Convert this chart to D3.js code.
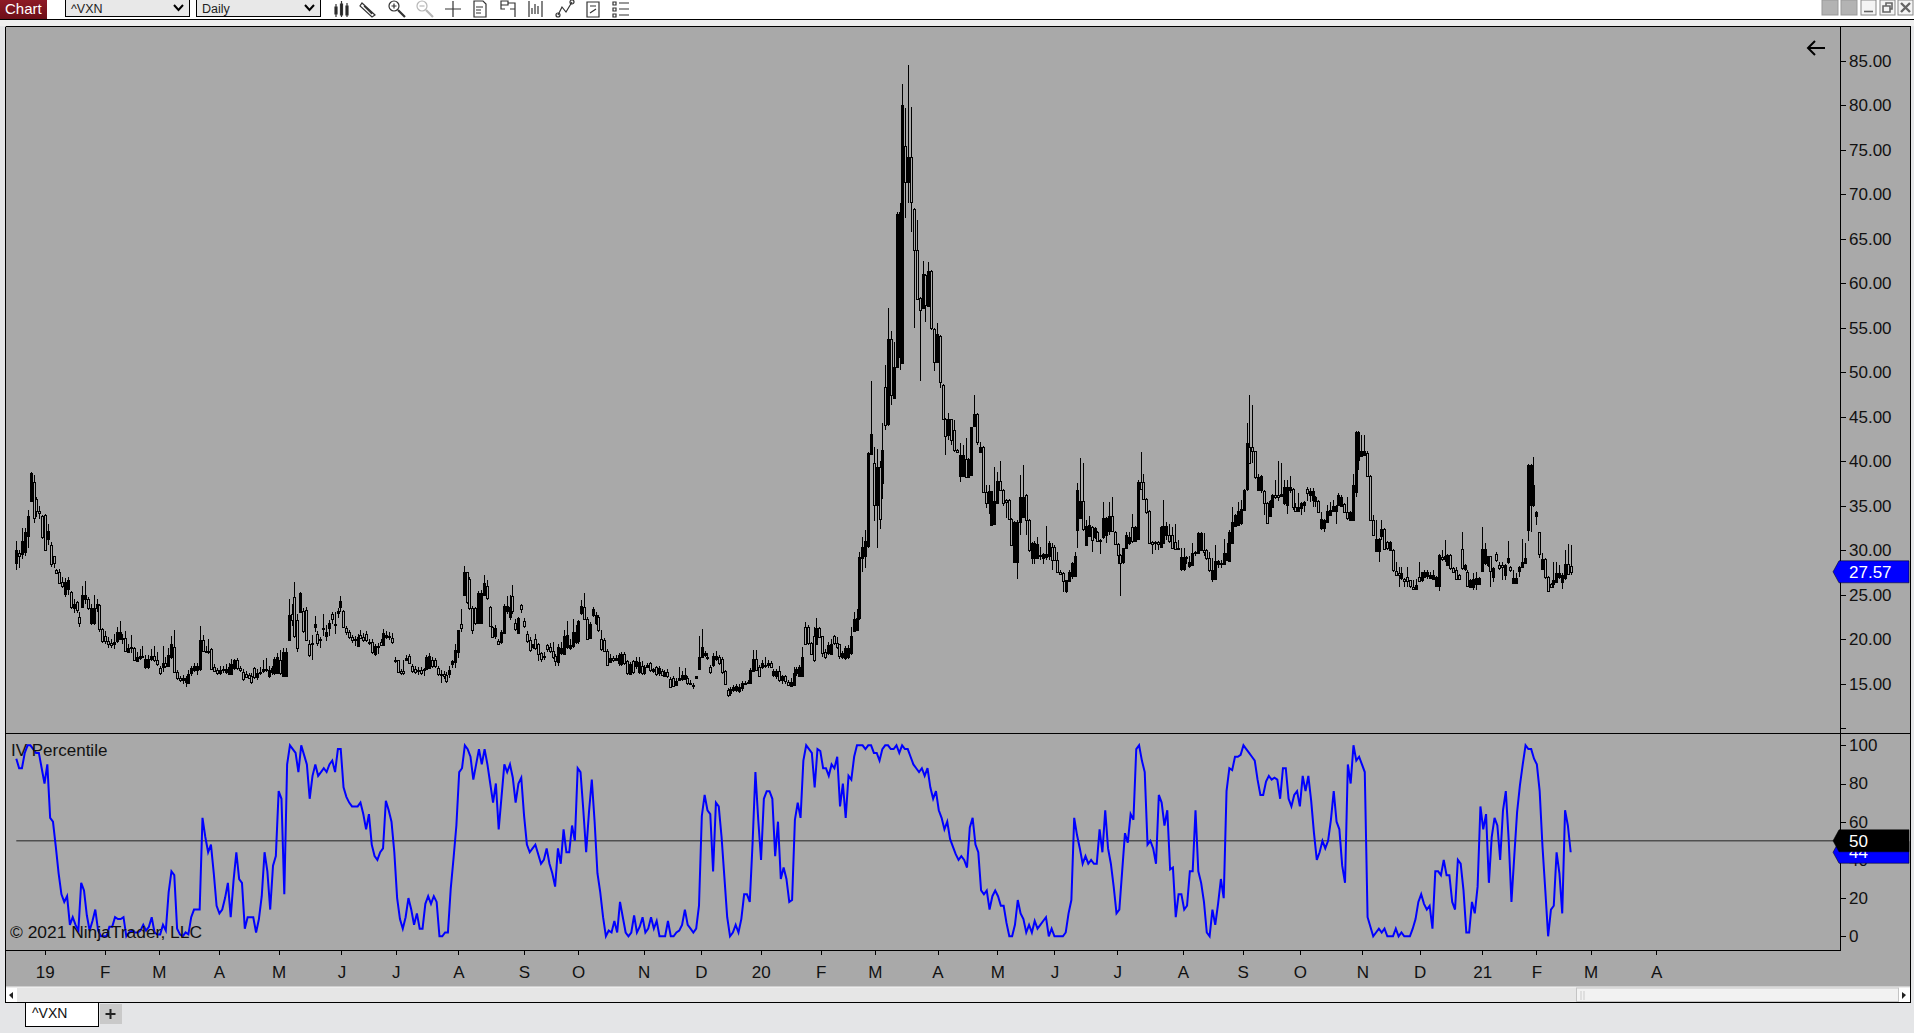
<!DOCTYPE html>
<html>
<head>
<meta charset="utf-8">
<script src="https://cdnjs.cloudflare.com/ajax/libs/d3/7.8.5/d3.min.js"></script>
<style>
html, body { margin: 0; padding: 0; background: #e4e5e7; overflow: hidden; }
svg { display: block; }
text { font-family: "Liberation Sans", Arial, sans-serif; }
</style>
</head>
<body>
<div id="content"></div>
<script>
// VXN daily candles
var opens = [
28.5,29.7,29.5,29.7,31.5,35.5,37.7,35.7,34.4,
33.8,34,31.3,30.6,29.3,27.8,27.5,26.4,25,25.7,
25.3,23.5,24.2,22.5,23.6,24.5,24.5,21.8,21.8,23.5,
23.8,21.1,20.3,19.8,19.6,19.5,19.8,20,20.1,20.1,
18.6,19.1,19,17.6,17.9,18,16.9,16.9,17.8,18.1,
17.7,16.7,16.9,17.3,17,18,19.1,16.3,15.6,
15.4,15.1,15.1,16.1,16.5,16.5,16.6,19.9,18.7,18.7,
18.9,16.9,16.5,16.2,16.5,16.3,16.1,16.1,16.7,17.6,
16.7,16.3,16.1,16,15.8,16.7,15.7,16.3,16.4,16.5,
15.8,16.2,16.2,16.2,17.6,15.9,15.9,19.9,22.8,24.7,
22.1,23.1,23.2,23.3,19.5,19.6,21.4,20.6,19.9,21.2,
20.3,21.2,22.8,21.6,23,23.6,23.2,21.3,20.8,20.2,
19.9,19.2,20.5,20.2,20.6,19.7,19.7,18.3,19.2,
19.7,19.4,20.3,20.2,20.1,17.6,17.6,16.4,16.4,17.7,
18.1,17,16.6,16.5,16.5,16.5,16.7,16.8,17.6,17.7,
16.7,16.1,16.1,16,16.1,17.2,17.5,18.5,21.7,25,
27.5,26.8,23.5,23.5,21.8,21.8,25,26,23.6,21.4,
20.3,19.8,19.7,20.7,23.1,22.5,24.8,21.8,20.7,23.8,
22,20.6,19.9,19.1,20,19.5,18.4,18.1,19.3,19.1,
18.7,18.1,17.4,18.4,18.4,19.1,19,19.2,19.7,19.7,
22.9,23.6,22.3,20.1,22.7,21.8,22.5,20,19.9,18.7,
17.5,17.9,17.7,17.3,17.2,18.3,17.5,16.1,17.5,16.9,
16.3,17,16.2,16.9,17.3,16.4,16.9,16.1,16.4,15.8,
16.3,15.5,15.6,14.9,15.4,15.5,15.6,15.6,15.1,14.8,
15.6,16.7,18,18.2,17.9,16.9,17.1,17.8,18,17.8,
16.4,14.3,13.9,14.3,14.2,14.1,14.5,15,15.1,15,
16.5,17.8,16.9,16.9,17,17.1,17.3,15.9,15.8,16.4,
15.4,15.8,15.2,14.7,14.9,16.2,15.9,15.9,21.4,21.4,
19.6,20.3,19.5,21.3,20.3,18.6,18.4,18.4,20.3,19.6,
19.4,17.9,17.9,18,18.4,21,21,22.3,29.2,29.3,
30.4,40.9,39.8,35.1,39.4,37.6,48.4,44.1,53.7,47.1,
50.6,51.7,51,75.4,71.4,74.2,68.4,63.8,58.4,57.2,
60.9,57.5,61.4,54.9,51.2,54.1,48.6,44.8,42.9,44.7,
43.5,41.3,38.3,38.3,40.3,38.3,38.4,43.9,45.3,41,
41.6,36.5,35.3,32.8,32.9,35.3,37.8,36.8,35.6,35.6,
33.5,28.7,28.7,33.2,33.8,36.2,33.4,29.1,29.1,29.1,
29.4,29.1,29.3,29.3,30.4,30.4,28.9,27.6,27.4,25.4,
26.6,27.1,27.1,32.3,33.6,35.5,30.6,31.6,32.6,31.5,
32.1,31.2,31.5,31.7,32.1,33.8,32.1,30.7,29.5,28.6,
30.2,30.8,32.6,31,31.3,37.7,37.7,35.8,34.4,30.9,
30.8,30.9,30.4,30.8,31.7,31.7,31.7,30.9,30.1,27.8,
27.9,29.2,28.3,28.3,29.8,29.7,30,30,30,29.1,
26.8,26.8,28.5,28.6,28.5,28.9,28.8,30.8,32.8,32.8,
33,34.6,36.8,41.6,41.6,41.1,36.7,36.7,36.7,35.3,
33.8,34.8,36.2,36.2,36.1,35.3,35.1,36.8,36.9,34.9,
34.5,34.7,35.1,36.9,36.2,35.6,35.6,35.5,32.5,32.5,
33.2,33.9,34.4,34.4,35.1,35,35.2,34.3,33.4,33.4,
36.5,40.1,40.6,40.8,40.9,38.3,33.4,29.9,29.9,31.6,
32.4,30.9,30,30,27.7,27.4,26.8,26.8,27,26.6,
25.9,25.7,27,26.6,27,27,26.9,26.8,26,26,
29.2,29,28.4,29.5,28,27.8,27.2,30.1,27.8,27.6,
25.9,25.9,26.2,26.2,27.6,28.5,28.3,29.3,27,29.6,
28.3,28.3,27.2,28.6,28.1,26.3,26.3,27.7,28.1,28.5,
32.3,35.1,35,33.8,32,27.9,29,27,26.2,26.1,
26.4,27,26.4,26.9,28.5,28.2];

var closes = [
30,29.4,31,32,33.8,38.7,33.7,34.3,34.2,
31.4,30.1,32.2,28.5,28.5,27.5,26.3,26,26.4,26.7,
23.6,24,23.3,21.8,25,25,23.5,23.5,23.5,23.9,
21.1,19.7,19.7,19.5,19.4,19.7,20.8,20.8,20,18.6,
19,19,17.6,18,18.1,18.1,17.8,17.8,18.1,17.7,
17.2,16.1,17.3,17,18.2,19.5,16.3,15.6,15.4,
15.6,15.6,16.1,16.7,17,17,19.9,18.7,18.6,18.6,
16.6,16.5,16.2,16.5,16.6,16.6,16.9,17.2,17.6,16.7,
16.5,15.5,15.8,15.7,15.1,15.7,16.2,16.2,16.6,16.6,
16.5,16.7,17.8,18,16.1,18.6,18.6,22.7,22.1,20.3,
19,25.2,21,19.9,18.3,19.5,21.7,19.6,20,21.3,
20.8,21.8,22.2,21.7,23.2,24.3,21.4,20.8,20.2,19.9,
20,20.2,20.2,19.9,19.9,19.6,18.6,19.2,19.1,
19.4,20.7,20.5,20.3,19.7,17.6,16.3,16.2,16.2,17.9,
17.3,16.4,16.3,16.4,16.2,16.6,18,18.1,16.9,17,
16,16,15.9,15.3,16.5,17.5,18.8,21,21.2,27.6,
24.1,23.5,21,21.8,25.2,25.2,26.3,24.7,21.5,20.3,
21.2,19.5,20.8,23.7,23.7,23.6,23.1,21.1,22.4,23.3,
21.4,19.8,18.8,19.4,19,18.4,17.7,18,18.9,18.6,
18,17.5,19.1,19,20.4,20.5,19.3,20.8,20.8,22,
23.7,22.3,20.1,21.7,23.4,22.7,21,18.9,18.7,17.1,
17.9,17.7,17.9,18.2,18.3,17.3,16.2,17.2,16.3,17.5,
17.4,16.2,16.9,17.1,16.5,16.6,16.1,16.7,16,16.3,
15.8,14.6,14.7,15.3,15.6,16,16,15,15,14.7,
15.8,18,19.1,18.4,18,16.3,18.1,18.1,17.3,16.3,
14.9,13.7,14.4,14.6,14.7,14.6,15.1,15.1,15.2,16.5,
17.8,16.6,15.9,17.3,17.1,17.3,16.9,16.4,16.4,15.4,
15.8,15.2,14.9,15.2,16.2,16.6,16.9,18,19.5,19.6,
18.4,17.6,21.3,20.3,18.4,18,19.3,19.5,19.5,19.2,
18,18.4,19,19,20.3,22.3,22.4,29.2,30.4,31,
40.9,43.1,35.1,39.4,33.6,41.3,44.1,53.7,47.4,50.6,
67.8,68,80,71.4,74.2,69.1,63.8,58.3,57,61,
57.5,61.4,55,51.2,54.3,48.9,44.8,42.9,44.7,42.3,
41.3,41.1,40.7,40.7,38.3,40.3,43.8,45.3,42.2,41.6,
36.5,35.3,36.6,36.6,35.5,37.8,36.8,35.3,35.4,33.5,
30.6,33.2,33.2,36,36,33.4,30,30.8,30.8,30.7,
29.5,29.6,29.6,30.8,28.9,28.9,27.5,27.4,26.5,26.6,
27.6,28.6,29.3,36.8,35.5,32.3,32.7,32.8,31.1,32.5,
31.1,31.1,33.6,33.6,33.8,32.1,30.8,29.5,28.6,30.2,
31.7,31.5,31,32.6,37.7,36.9,35.8,34.3,30.8,30.7,
30.9,30.7,32.6,32.7,32.7,31,30.2,30.1,30.2,29.2,
29.2,29.1,28.7,29.7,29.7,31.9,31.9,29.8,29.1,27.8,
27.8,28.8,28.8,28.5,29.7,29.7,32.1,33.2,34,34.4,
34.6,36.8,42,39.8,41.1,38.2,38.2,38.3,35.3,33,
35.5,36.2,36,36,36.3,37.1,37.1,37.1,34.9,34.5,
34.9,35.3,35.4,36.4,36.6,36.6,36,34.3,33.5,33.4,
34.4,34.5,35,35,36.2,36,34.3,33.6,34.3,37.3,
43.3,43.3,41.2,41.2,38.3,33.4,31.7,31.3,31.3,32.4,
30.2,30.2,30.9,27.7,27.2,27.2,27.4,26.6,26.6,25.9,
25.7,26.1,26.6,27.5,27.6,27.5,27.2,27.2,27,29.5,
29,29.3,29.5,28,27.6,26.8,26.8,28,28.3,26,
26.7,26.8,26.9,26.9,30.1,30.1,29.3,27.6,28,28.9,
28,28.1,28.3,29.1,27.8,26.9,26.9,28.1,28.7,29.1,
39.6,39.6,37.3,34.3,29.5,29,27,25.4,25.9,26.6,
27.4,27.4,27.2,28.5,27.4,27.57];

var highs = [
31,30,32.5,32.5,34.5,38.8,38.4,36,35,
33.9,34.1,33,30.9,29.4,27.9,27.9,27,26.9,27,
25.4,24.5,24.3,23,26,26.5,24.7,24,25,24.5,
23.9,21.2,20.9,20.2,20,20.6,21.4,22,20.6,20.9,
19.5,20.5,19.1,18.5,18.9,19.2,18.2,18.2,18.9,19.2,
18.5,17,19.2,18,19,20.3,21,16.5,15.8,
16,15.8,16.5,17,17.3,17.3,21.5,20.5,19.2,20,
19,17.2,16.7,17,17,17.2,17.3,17.8,17.8,17.9,
17,16.6,16.4,16.2,16.2,16.9,16.6,16.9,17.6,17.9,
17,17,18,18.4,18.8,19,19,24.5,24,26.4,
22.8,25.3,23.5,23.6,19.9,20.5,22.6,20.9,20.2,22.8,
21.6,22.2,23,23,23.5,24.9,23.3,21.5,21,20.5,
20.3,20.6,21,20.7,20.9,20,20,19.5,19.6,
20,21.1,20.9,20.8,20.7,18,17.7,16.6,17.6,18.2,
18.3,17.2,17,16.9,16.9,16.8,18.2,18.4,18,17.9,
17,16.5,16.4,16.3,17,17.7,19.4,21,23.4,28.2,
27.6,27,23.7,23.6,25.4,25.5,27.2,26.6,23.7,21.5,
21.6,20,21,24,24.8,25,26.1,22.3,22.5,24,
22.4,20.9,20.2,19.5,20.6,19.6,18.6,18.6,19.5,19.6,
19.7,18.3,19.4,19.7,21,22,20,22.3,21.6,22.2,
24.4,25.2,22.5,21.9,23.6,23,22.7,21,20.1,18.9,
18.3,18.1,18.2,18.4,18.5,18.5,17.7,17.4,17.7,18,
18,17.5,17.1,17.3,17.4,16.8,17,17,16.6,16.5,
16.6,15.7,15.8,15.6,16.9,16.4,16.7,15.9,15.4,15.1,
15.9,20.3,21.1,18.7,18.4,17.1,18.4,18.7,18.2,18,
16.5,14.5,14.6,14.8,14.9,14.9,15.3,15.3,15.4,16.7,
18.8,18.8,17.1,17.6,18,17.7,17.5,16.6,16.6,17,
16,16,15.4,15.6,16.9,16.9,17.1,19.1,21.9,21.6,
19.7,21.4,22.4,21.4,20.4,18.9,19.7,20,20.5,20.2,
19.5,18.7,19.2,19.3,21.4,23,23.4,29.8,31.5,32.3,
41,49,41.6,41.4,40,44.3,50.8,57.2,54.6,53.4,
68,69,82.4,79.7,84.5,79.8,68.5,67.1,58.5,62.5,
61,62.4,61.5,55,55.5,54.2,48.7,44.9,45.4,44.8,
44.6,41.4,42,41.8,42.6,40.4,43.9,47.5,45.4,42.2,
41.7,37.3,37.3,36.7,39.4,38.8,40,36.9,35.7,35.7,
33.6,33.3,33.4,38.4,39.6,36.3,33.5,30.9,31,31.5,
30.4,29.7,32.7,31,30.8,30.6,29.8,27.8,27.5,26.7,
27.8,28.7,29.8,37.6,40.4,39.8,33.4,33.8,32.7,32.6,
32.2,31.3,35.4,33.7,35.4,36,32.2,30.8,29.6,30.3,
32.1,32.1,34.1,32.7,37.9,41,38.6,35.9,34.5,31,
31,31,32.7,35.6,33.2,33,32.6,33,31.1,30.2,
30.2,29.3,29.3,30.8,29.9,32.1,32.1,31.9,30.1,29.8,
29.1,30.6,28.9,28.9,31.3,30.8,32.3,34.9,34.1,35.4,
35.6,36.9,44.3,47.5,46.3,41.2,38.6,38.4,36.8,35.4,
35.6,36.3,37.9,40,39.8,37.9,37.9,38.3,37,35.3,
36.4,35.4,35.5,37.1,37,37,36.1,35.6,34.3,33.5,
35.1,35.4,35.6,35.1,36.4,36.2,35.3,36,34.4,38.6,
43.4,43.4,43,43,41.2,38.4,33.9,33.4,31.4,33.4,
32.5,31,31,30.1,28.7,28.1,28.1,26.9,28.1,26.7,
26.6,26.8,28.7,27.6,27.8,27.8,27.5,27.8,27.1,29.6,
30,31.2,29.6,29.6,28.1,28.1,27.3,32.1,28.4,27.8,
26.8,27.4,27.6,27,32.6,30.8,29.4,29.4,28.1,29.8,
28.7,28.7,28.4,31,28.2,27.8,27.4,28.2,31.3,30.8,
39.7,39.7,40.5,34.4,32.1,29.7,29.1,27.1,26.3,28.7,
28.7,28.3,27.4,30,30.7,30.6];

var lows = [
27.8,28,29,29.4,30.3,35.4,33.1,33.7,33.5,
31.3,30,30.6,28.1,28,27.3,26.2,25.7,24.7,25,
23.4,22.9,22.9,21.4,23.5,24,23.3,21.6,21.6,23,
20.8,19.6,19.5,19,19,18.9,19.6,19.9,19.5,18.5,
18.4,18.4,17.5,17.4,17.7,17.9,16.6,16.6,17.5,17.4,
17,16,16.3,16.8,16.9,17.8,16.2,15.4,15.2,
15,14.6,14.9,15.8,16.3,16,16.4,18.5,18.4,18.3,
16.5,16.3,16,16,16.2,16.1,16,16,16.5,16.5,
16.3,15.3,15.6,15.5,14.9,15.5,15.4,16,16.2,16.3,
15.6,16,16,16.1,16,15.8,15.8,19.8,21.5,20.1,
18.5,23,20.7,19.8,18,17.6,20.8,19.2,19,20.4,
19.8,20.3,21.7,20.6,22.4,23,21.2,20.5,20,19.6,
19.2,19.1,20,19.7,19.7,19.3,18.3,18.1,18.3,
19.2,19.3,20,19.9,19.5,17.3,16.2,16,16,17.5,
17.2,16.2,16.1,16,16,15.8,16.5,16.6,16.7,16.8,
15.8,15.1,15.5,15.1,15.6,16.7,16.8,17.9,20.8,24.8,
24,23.3,20.6,21.6,21.7,21.7,24.8,24.4,21.4,20.1,
20,19.3,19.5,20.6,22.8,22.2,22.8,20.9,20.6,22.9,
21.2,19.6,18.5,18.9,18.8,17.5,17.4,17.6,18.6,18.4,
17.8,17,17,18.2,18.2,18.9,18.8,19,19.5,19.5,
22.7,22.1,20,20,22.5,21.6,20.8,18.7,18.5,17,
17.3,17.4,17.5,17,17,17.1,16,16,16.1,16.6,
16.1,16,16,16.7,16.3,16.2,15.9,15.9,15.8,15.7,
15.6,14.5,14.6,14.8,15.3,15.3,15.4,14.8,14.8,14.4,
15.5,16.6,17.9,18,17.6,16.1,16.9,17.5,17.1,16.1,
14.8,13.5,13.6,14,14,13.9,14.2,14.8,14.9,14.9,
16.3,16.4,15.7,16.6,16.7,16.8,16.7,15.7,15.5,15.2,
15,14.9,14.7,14.6,14.7,15.9,15.7,15.8,19.3,19.3,
18.2,17.4,19.3,20.1,18,17.8,18.2,18.2,19.3,18.9,
17.8,17.8,17.7,17.8,18.2,20.8,20.9,22.1,27.6,28,
30.2,40.8,33.3,30.3,32.4,35.8,43.5,44,46.3,47,
50.5,50.3,50.9,67.4,69,65.8,55,58.2,49,57.1,
55.7,57.4,54.7,50.1,51.1,48.2,44.7,40.7,42.4,41.8,
41,40.9,37.7,38.2,38.2,38.1,38.3,43.8,41.8,40.9,
36.4,34.7,34.1,32.7,32.8,35.2,36.7,35,33.6,33.4,
30.5,28.6,26.8,31.7,33.7,31.7,29.8,28.5,28.5,29,
28.9,28.5,28.9,28.9,27.8,28.8,27.4,27.2,25.3,25.2,
26.4,26.8,27,30.2,33.5,32.2,30.5,31.5,29.8,31.3,
31,29.6,31.3,30.8,31.7,32,30.7,28.5,24.8,28.5,
30.1,30.6,30.8,30.9,31.2,36.8,35.7,34.1,30.7,29.6,
30,30,30.2,30.7,31.1,30.8,30.1,30,30,27.7,
27.7,28.5,28,28.2,29.3,29.6,29.9,29.3,28.9,27.6,
26.4,26.6,28,28,28.4,28.8,28.7,30.7,32.7,32.7,
32.8,34.5,36.7,39.7,39.8,38,36.6,36.4,34,32.9,
33.7,34.7,35.8,35.5,36,35.1,34.1,36.4,34.5,34.4,
34.4,33.9,34.3,35.5,35.4,34.9,34.8,34.2,32.3,32.1,
33.1,33.9,34.3,33,35,34.9,34.2,33.4,33.3,33.3,
36,39,40.5,40.7,38.2,33.3,31.6,29.8,28.7,31.1,
30.1,30,29.9,27.6,27.1,25.9,26.6,25.9,25.9,25.7,
25.5,25.6,26.5,26.4,26.9,26.8,26.8,26.8,25.9,25.4,
28.8,28.7,28.3,27.8,27.5,26.7,26.7,27.8,27.7,25.9,
25.8,25.5,25.5,26.1,27.5,28.3,28.1,25.9,26.4,28.7,
27.8,26.6,26.6,28.5,27.6,26.2,26.2,27,28,28.5,
31,32,34.9,32.8,29.1,27.8,26.8,25.3,25.8,25.8,
26.3,26.8,25.6,26.6,27.3,27.2];

var ivValues = [
93,88,88,96,100,100,98,96,96,88,80,90,62,60,47,33,22,18,21,6,
10,6,3,28,24,11,3,8,14,3,0,0,0,5,5,10,9,9,10,0,
2,3,2,2,3,6,3,5,10,2,1,1,6,3,23,34,32,4,1,0,
2,1,10,14,14,14,62,52,44,48,33,16,12,14,20,28,10,29,44,30,
28,4,10,10,10,2,9,21,44,34,14,37,42,76,72,22,90,100,98,96,
86,100,95,90,72,84,90,84,86,88,86,90,92,86,98,98,78,73,70,68,
68,68,70,64,56,64,48,42,40,44,46,71,66,60,44,20,9,4,10,20,
14,6,12,4,4,17,21,17,21,18,0,0,2,2,25,41,58,86,88,100,
98,94,82,90,98,90,98,90,80,70,80,56,73,90,86,90,83,70,80,83,
63,48,44,46,48,43,38,40,46,38,33,26,46,38,56,44,44,58,50,88,
86,66,44,65,82,60,33,23,10,0,3,2,8,2,18,10,2,0,2,11,
2,
5,10,2,4,10,4,8,0,0,0,8,0,0,2,3,6,14,6,4,2,
4,16,63,74,66,64,34,70,68,52,31,10,0,2,6,2,9,22,22,18,
49,86,61,40,72,76,76,72,42,60,30,36,30,18,19,61,70,62,92,100,
98,96,78,98,97,88,88,84,90,88,94,68,80,62,84,82,94,100,100,100,
98,100,100,96,96,92,98,100,100,98,98,100,96,100,98,98,94,90,88,86,
88,84,88,78,72,76,66,62,56,60,51,47,43,40,42,40,36,57,62,48,
44,24,22,24,14,21,24,21,16,16,7,0,0,6,19,12,9,2,6,2,
8,4,6,8,10,0,4,0,0,0,0,2,12,19,62,53,46,38,42,38,
40,38,38,56,44,66,46,38,26,12,14,34,54,49,64,61,98,100,92,86,
48,50,46,38,74,70,58,66,35,36,10,22,22,14,16,34,34,66,34,28,
18,2,0,14,6,17,30,20,76,88,87,94,94,95,100,98,96,94,92,82,
74,74,81,84,82,83,
82,72,88,88,72,68,74,76,68,84,76,84,71,54,40,44,50,46,50,61,
76,60,56,37,28,90,80,100,92,94,90,86,10,5,0,2,4,2,4,0,
0,0,4,0,2,0,0,0,4,9,18,22,17,14,16,4,34,34,32,40,
32,32,18,14,40,38,24,2,2,18,12,26,68,56,64,28,52,62,58,40,
66,76,51,18,42,65,79,90,100,98,98,93,90,76,47,24,0,14,16,44,
33,12,66,58,44];

var monthLabels = ["19", "F", "M", "A", "M", "J", "J", "A", "S", "O", "N", "D", "20", "F", "M", "A", "M", "J", "J", "A", "S", "O", "N", "D", "21", "F", "M", "A"];
// bar positions of the month starts, on the percentile pane's day count
var monthBars = [10, 31, 50, 71, 92, 114, 133, 155, 178, 197, 220, 240, 261, 282, 301, 323, 344, 364, 386, 409, 430, 450, 472, 492, 514, 533, 552, 575];
var priceTicks = [15, 20, 25, 30, 35, 40, 45, 50, 55, 60, 65, 70, 75, 80, 85];
var ivTicks = [0, 20, 40, 60, 80, 100];

var width = 1914;
var height = 1033;
var panelLeft = 5;
var panelRight = 1910;
var axisX = 1840;
var panelTop = 26;
var paneSplit = 733;
var paneBottom = 950;
var timeBottom = 987;
var scrollBottom = 1002;
var backColor = "#a9a9a9";

var svg = d3.select("#content").append("svg").attr("width", width).attr("height", height);

var x = d3.scaleLinear().domain([0, opens.length - 1]).range([16.3, 1570.7]);
var xIv = d3.scaleLinear().domain([0, ivValues.length - 1]).range([16.3, 1570.7]);
var xTime = d3.scaleLinear().domain([0, 545]).range([16.3, 1570.7]);
var yPrice = d3.scaleLinear().domain([15, 85]).range([683.6, 61]);
var yIv = d3.scaleLinear().domain([0, 100]).range([936.3, 745.3]);

// window frame
svg.append("rect").attr("width", width).attr("height", height).attr("fill", "#e4e5e7");
svg.append("rect").attr("width", width).attr("height", 19).attr("fill", "#ffffff");
svg.append("line").attr("x1", 0).attr("x2", width).attr("y1", 19.5).attr("y2", 19.5).attr("stroke", "#000");
svg.append("rect").attr("y", 20).attr("width", width).attr("height", 6).attr("fill", "#efefef");
svg.append("rect")
    .attr("x", panelLeft).attr("y", panelTop)
    .attr("width", panelRight - panelLeft).attr("height", timeBottom - panelTop)
    .attr("fill", backColor);

drawToolbar();
drawBottomBars();

// candles
var candles = svg.append("g").attr("shape-rendering", "crispEdges");
var bars = d3.range(opens.length);

candles.selectAll(".wick")
    .data(bars)
    .enter()
    .append("line")
    .attr("class", "wick")
    .attr("x1", i => Math.round(x(i)) + 0.5)
    .attr("x2", i => Math.round(x(i)) + 0.5)
    .attr("y1", i => yPrice(highs[i]))
    .attr("y2", i => yPrice(lows[i]))
    .attr("stroke", "#000");

candles.selectAll(".body")
    .data(bars)
    .enter()
    .append("rect")
    .attr("class", "body")
    .attr("x", i => Math.round(x(i)) - 0.5)
    .attr("width", 2)
    .attr("y", i => Math.round(yPrice(Math.max(opens[i], closes[i]))) + 0.5)
    .attr("height", i => Math.max(1, Math.round(Math.abs(yPrice(opens[i]) - yPrice(closes[i])))))
    .attr("fill", i => closes[i] > opens[i] ? "#000" : backColor)
    .attr("stroke", "#000");

// IV percentile pane
svg.append("line")
    .attr("x1", x(0)).attr("x2", axisX)
    .attr("y1", yIv(50)).attr("y2", yIv(50))
    .attr("stroke", "#505050")
    .attr("stroke-width", 1.5);

var ivLine = d3.line().x((d, i) => xIv(i)).y(d => yIv(d));

svg.append("path")
    .datum(ivValues)
    .attr("d", ivLine)
    .attr("fill", "none")
    .attr("stroke", "#0000ff")
    .attr("stroke-width", 2);

svg.append("text").attr("x", 11).attr("y", 755.5).attr("font-size", 17).attr("fill", "#111").text("IV Percentile");
svg.append("text").attr("x", 10).attr("y", 938).attr("font-size", 17.4).attr("fill", "#111").text("\u00a9 2021 NinjaTrader, LLC");

// pane borders
svg.append("g")
    .attr("stroke", "#000")
    .attr("shape-rendering", "crispEdges")
    .selectAll("line")
    .data([
        [panelLeft, panelTop, panelRight, panelTop],
        [panelLeft, panelTop, panelLeft, scrollBottom],
        [panelLeft, paneSplit, panelRight, paneSplit],
        [panelLeft, paneBottom, axisX, paneBottom],
        [axisX, panelTop, axisX, paneBottom],
        [panelRight, panelTop, panelRight, scrollBottom],
        [panelLeft, scrollBottom, panelRight, scrollBottom]
    ])
    .enter()
    .append("line")
    .attr("x1", d => d[0] + 0.5).attr("y1", d => d[1] + 0.5)
    .attr("x2", d => d[2] + 0.5).attr("y2", d => d[3] + 0.5);

// axes
var priceAxis = d3.axisRight(yPrice)
    .tickValues(priceTicks.concat([10]))
    .tickSize(6)
    .tickPadding(3)
    .tickFormat(d => d === 10 ? "" : d.toFixed(2));

var ivAxis = d3.axisRight(yIv)
    .tickValues(ivTicks)
    .tickSize(6)
    .tickPadding(3);

var timeAxis = d3.axisBottom(xTime)
    .tickValues(monthBars)
    .tickSize(5)
    .tickPadding(11)
    .tickFormat((d, i) => monthLabels[i]);

svg.append("g").attr("transform", `translate(${axisX}, 0)`).call(priceAxis).call(styleAxis);
svg.append("g").attr("transform", `translate(${axisX}, 0)`).call(ivAxis).call(styleAxis);
svg.append("g").attr("transform", `translate(0, ${paneBottom})`).call(timeAxis).call(styleAxis);

function styleAxis(g) {
    g.select(".domain").remove();
    g.selectAll("text").attr("font-size", 17).attr("font-family", '"Liberation Sans", Arial, sans-serif').attr("fill", "#111");
    g.selectAll("line").attr("stroke", "#000").attr("shape-rendering", "crispEdges");
}

// price markers on the right axis
priceTag(yPrice(closes[closes.length - 1]), "#0000ff", "27.57");
priceTag(yIv(ivValues[ivValues.length - 1]), "#0000ff", "44");
priceTag(yIv(50), "#000000", "50");

function priceTag(y, color, label) {
    svg.append("path")
        .attr("d", `M1833,${y} L1839,${y - 11} L1909,${y - 11} L1909,${y + 11} L1839,${y + 11} Z`)
        .attr("fill", color)
        .attr("stroke", "#000")
        .attr("stroke-width", 0.5);
    svg.append("text")
        .attr("x", 1849)
        .attr("y", y + 6)
        .attr("font-size", 17)
        .attr("fill", "#fff")
        .text(label);
}

// back arrow, top right of the chart
svg.append("path")
    .attr("d", "M1825,48 L1808,48 M1815,41 L1808,48 L1815,55")
    .attr("fill", "none")
    .attr("stroke", "#000")
    .attr("stroke-width", 2);

function drawToolbar() {
    var red = svg.append("defs").append("linearGradient")
        .attr("id", "chartRed").attr("x1", 0).attr("x2", 0).attr("y1", 0).attr("y2", 1);
    red.append("stop").attr("offset", 0).attr("stop-color", "#8d1a26");
    red.append("stop").attr("offset", 1).attr("stop-color", "#6d0f18");

    svg.append("rect").attr("width", 47).attr("height", 19).attr("fill", "url(#chartRed)");
    svg.append("text").attr("x", 5).attr("y", 14).attr("font-size", 15).attr("fill", "#fff").text("Chart");

    var selects = [
        { x: 65, w: 124, label: "^VXN" },
        { x: 196, w: 124, label: "Daily" }
    ];
    selects.forEach(function (s) {
        svg.append("rect").attr("x", s.x + 0.5).attr("y", -2).attr("width", s.w).attr("height", 18.5)
            .attr("fill", "#e8e8e8").attr("stroke", "#000");
        svg.append("text").attr("x", s.x + 6).attr("y", 12.5).attr("font-size", 12.5).attr("fill", "#222").text(s.label);
        svg.append("path")
            .attr("d", `M${s.x + s.w - 15},5 L${s.x + s.w - 10.5},10 L${s.x + s.w - 6},5`)
            .attr("fill", "none").attr("stroke", "#000").attr("stroke-width", 2);
    });

    var icons = svg.append("g").attr("fill", "none").attr("stroke", "#333").attr("stroke-width", 1.2);
    // candles
    icons.append("path").attr("d", "M336,4 V17 M341.5,1 V17 M347,3 V17");
    icons.append("path").attr("d", "M335,7 H337 V14 H335 Z M340.5,4 H342.5 V15 H340.5 Z M346,6 H348 V15 H346 Z").attr("fill", "#222");
    // pencil
    icons.append("path").attr("d", "M362,3 L375,15 L372,17 L360,6 Z M364,6 L372,14");
    // zoom in, zoom out
    icons.append("circle").attr("cx", 394).attr("cy", 6).attr("r", 5);
    icons.append("path").attr("d", "M391.5,6 H396.5 M394,3.5 V8.5");
    icons.append("path").attr("d", "M398,10 L405,17").attr("stroke-width", 2.2);
    icons.append("g").attr("opacity", 0.35).call(g => {
        g.append("circle").attr("cx", 422).attr("cy", 6).attr("r", 5);
        g.append("path").attr("d", "M419.5,6 H424.5");
        g.append("path").attr("d", "M426,10 L433,17").attr("stroke-width", 2.2);
    });
    // crosshair
    icons.append("path").attr("d", "M445,9 H461 M453,1 V17");
    // data box
    icons.append("path").attr("d", "M474,1 H483 L486,4 V17 H474 Z M476,7 H483 M476,10 H481 M476,13 H481");
    // properties
    icons.append("path").attr("d", "M501,1 H508 V5 H501 Z M508,3 H515 V17 M510,9 H515 M501,5 V9 H505");
    // bars
    icons.append("path").attr("d", "M529,1 V17 M542,1 V17 M532,14 V8 M535,14 V4 M538,14 V6");
    // line
    icons.append("path").attr("d", "M558,15 L562,7 L566,12 L572,2");
    icons.append("circle").attr("cx", 558).attr("cy", 15).attr("r", 2);
    icons.append("circle").attr("cx", 572).attr("cy", 2).attr("r", 2);
    // strategy sheet
    icons.append("path").attr("d", "M587,2 H599 V17 H587 Z M590,6 H596 M590,13 L596,9");
    // list
    icons.append("path").attr("d", "M613,2 H616 V5 H613 Z M613,8 H616 V11 H613 Z M613,14 H616 V17 H613 Z M619,3 H629 M619,9 H629 M619,15 H629");

    // window buttons
    [1822, 1841].forEach(function (bx) {
        svg.append("rect").attr("x", bx).attr("y", 0).attr("width", 16).attr("height", 15).attr("fill", "#b3b3b3").attr("stroke", "#999");
    });
    [1861, 1880, 1898].forEach(function (bx) {
        svg.append("rect").attr("x", bx).attr("y", 0).attr("width", 15).attr("height", 15).attr("fill", "#f4f4f4").attr("stroke", "#888");
    });
    var marks = svg.append("g").attr("fill", "none").attr("stroke", "#666").attr("stroke-width", 1.6);
    marks.append("path").attr("d", "M1864,11.5 H1873");
    marks.append("path").attr("d", "M1883,6 H1890 V12 H1883 Z M1886,6 V3 H1892 V9 H1890");
    marks.append("path").attr("d", "M1901,3 L1910,12 M1910,3 L1901,12").attr("stroke-width", 2.4);
}

function drawBottomBars() {
    svg.append("rect").attr("x", panelLeft).attr("y", timeBottom).attr("width", panelRight - panelLeft).attr("height", scrollBottom - timeBottom).attr("fill", "#e6e6e6");
    svg.append("line").attr("x1", panelLeft).attr("x2", panelRight).attr("y1", timeBottom).attr("y2", timeBottom).attr("stroke", "#f5f5f5");
    svg.append("rect").attr("x", 6).attr("y", 988).attr("width", 11).attr("height", 14).attr("fill", "#fff");
    svg.append("path").attr("d", "M9,995 L13,992 V999 Z").attr("fill", "#222");
    svg.append("rect").attr("x", 1576.5).attr("y", 988).attr("width", 322).attr("height", 13.5).attr("fill", "#f2f2f2").attr("stroke", "#c4c4c4");
    svg.append("path").attr("d", "M1581,991 V1000 M1584,991 V1000").attr("stroke", "#ccc");
    svg.append("rect").attr("x", 1899).attr("y", 988).attr("width", 11).attr("height", 14).attr("fill", "#fff");
    svg.append("path").attr("d", "M1906,995 L1902,992 V999 Z").attr("fill", "#222");

    svg.append("rect").attr("x", 25.5).attr("y", 1002.5).attr("width", 73).attr("height", 24).attr("fill", "#fff").attr("stroke", "#000");
    svg.append("text").attr("x", 32).attr("y", 1018).attr("font-size", 14).attr("font-family", '"DejaVu Sans Mono", monospace').attr("fill", "#111").text("^VXN");
    svg.append("rect").attr("x", 100).attr("y", 1004).attr("width", 22).attr("height", 20).attr("fill", "#c9c9c9");
    svg.append("path").attr("d", "M105.5,1014 H115.5 M110.5,1009 V1019").attr("stroke", "#222").attr("stroke-width", 2);
}
</script>
</body>
</html>
